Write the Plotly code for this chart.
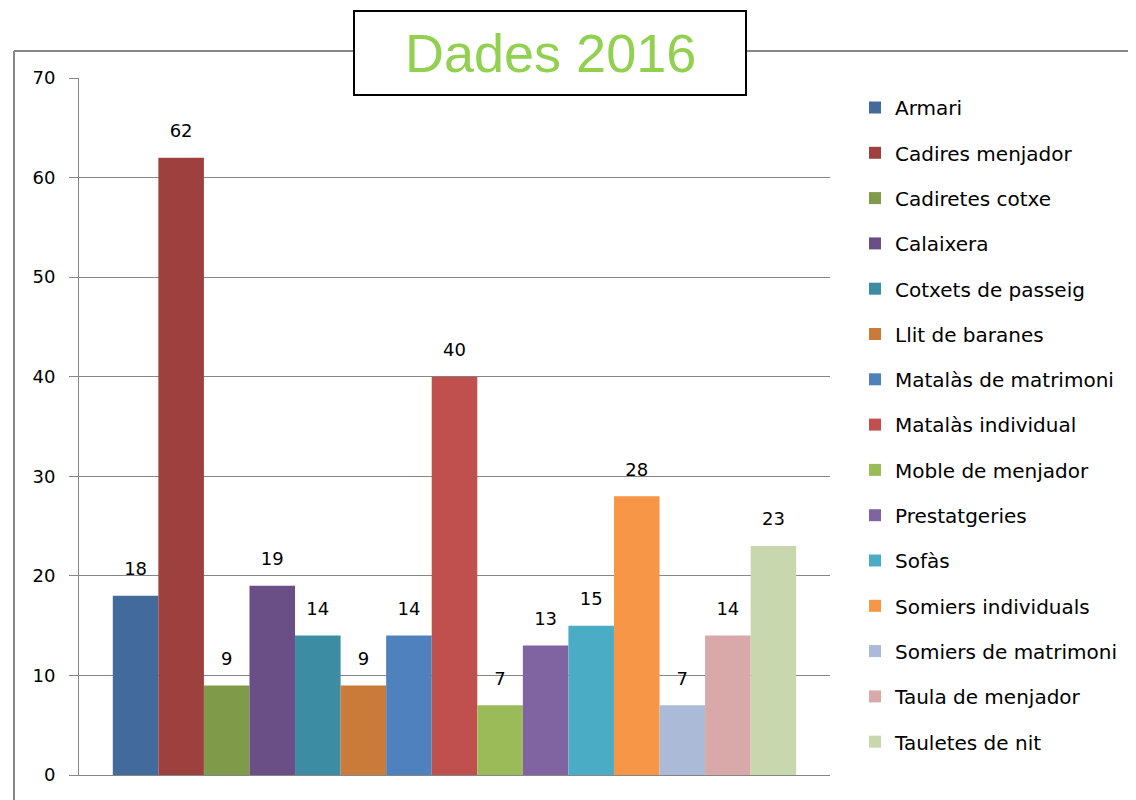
import plotly.graph_objects as go

categories = ["Armari", "Cadires menjador", "Cadiretes cotxe", "Calaixera",
              "Cotxets de passeig", "Llit de baranes", "Matalàs de matrimoni",
              "Matalàs individual", "Moble de menjador", "Prestatgeries", "Sofàs",
              "Somiers individuals", "Somiers de matrimoni", "Taula de menjador",
              "Tauletes de nit"]
values = [18, 62, 9, 19, 14, 9, 14, 40, 7, 13, 15, 28, 7, 14, 23]
colors = ["#426A9A", "#9E413E", "#7F9A48", "#6A4F87", "#3C8DA3", "#CB7B39",
          "#4F81BD", "#C0504D", "#9BBB59", "#8064A2", "#4BACC6", "#F79646",
          "#AABAD7", "#D9A9A9", "#C8D7AD"]
y_ticks = [0, 10, 20, 30, 40, 50, 60, 70]

OFF = 8  # page body margin
W, H = 1136 - OFF, 800 - OFF
L, R, T, B = 79 - OFF, 306, 78 - OFF, 25
pw, ph = W - L - R, H - T - B

def px(x):
    return (x - OFF - L) / pw

def py(y):
    return (H - B - (y - OFF)) / ph

fig = go.Figure()
for name, v, c in zip(categories, values, colors):
    fig.add_trace(go.Bar(
        x=[""], y=[v], name=name, legendgroup=name, offsetgroup=name,
        marker=dict(color=c, line=dict(width=0)),
    ))
for name, v in zip(categories, values):
    fig.add_trace(go.Scatter(
        x=[""], y=[v], mode="markers+text", text=[str(v)], textposition="top center",
        offsetgroup=name, legendgroup=name, showlegend=False, cliponaxis=False,
        marker=dict(size=24, color="rgba(0,0,0,0)"), hoverinfo="skip",
        textfont=dict(family="DejaVu Sans", size=18, color="black"),
    ))

fig.update_layout(
    width=W, height=H,
    margin=dict(l=L, r=R, t=T, b=B),
    paper_bgcolor="white", plot_bgcolor="white",
    barmode="group", bargap=0.09, bargroupgap=0,
    scattermode="group", scattergap=0.09,
    showlegend=True,
    legend=dict(x=px(855), y=py(88), xanchor="left", yanchor="top",
                font=dict(family="DejaVu Sans", size=20, color="black"),
                tracegroupgap=16.3, itemwidth=30, bgcolor="rgba(0,0,0,0)"),
    xaxis=dict(showticklabels=False, showgrid=False, zeroline=False,
               showline=True, linecolor="#868686", linewidth=1),
    yaxis=dict(range=[0, 70], tickvals=y_ticks, showgrid=True, gridcolor="#868686",
               gridwidth=1, zeroline=False, showline=True, linecolor="#868686",
               linewidth=1, ticks="outside", ticklen=9, tickcolor="#868686",
               ticklabelstandoff=10,
               tickfont=dict(family="DejaVu Sans", size=18, color="black")),
    shapes=[
        dict(type="line", xref="paper", yref="paper", x0=px(14), x1=px(1140),
             y0=py(51), y1=py(51), line=dict(color="#868686", width=2)),
        dict(type="line", xref="paper", yref="paper", x0=px(14), x1=px(14),
             y0=py(51), y1=py(805), line=dict(color="#868686", width=2)),
        dict(type="rect", xref="paper", yref="paper", x0=px(354), x1=px(746),
             y0=py(95), y1=py(11), fillcolor="white",
             line=dict(color="black", width=2)),
    ],
    annotations=[
        dict(text="Dades 2016", xref="paper", yref="paper", x=px(550), y=py(53),
             xanchor="center", yanchor="middle", showarrow=False,
             font=dict(family="Liberation Sans", size=54, color="#92D050")),
    ],
)

fig.write_html("out.html")
